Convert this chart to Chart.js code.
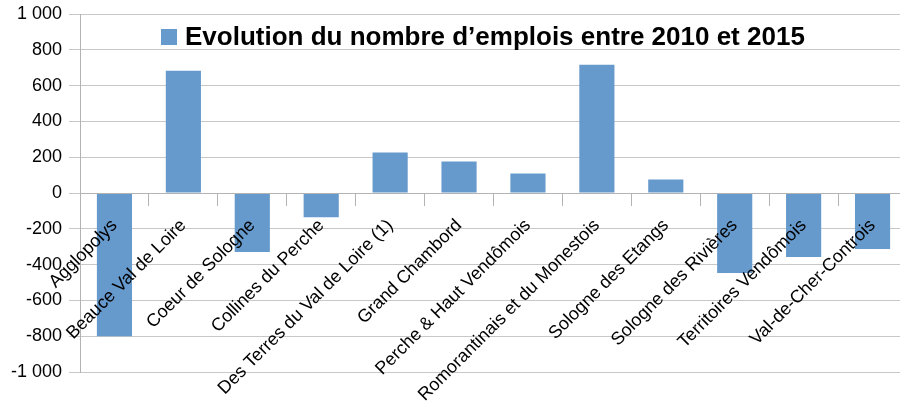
<!DOCTYPE html>
<html>
<head>
<meta charset="utf-8">
<script src="https://cdn.jsdelivr.net/npm/chart.js@4"></script>
<style>
  html, body { margin: 0; padding: 0; background: #fff; overflow: hidden; }
  #wrap { width: 910px; height: 406px; }
</style>
</head>
<body>
<div id="wrap"><canvas id="emploisChart" width="910" height="406"></canvas></div>
<script>
const categories = ['Agglopolys', 'Beauce Val de Loire', 'Coeur de Sologne', 'Collines du Perche',
  'Des Terres du Val de Loire (1)', 'Grand Chambord', 'Perche & Haut Vendômois',
  'Romorantinais et du Monestois', 'Sologne des Etangs', 'Sologne des Rivières',
  'Territoires Vendômois', 'Val-de-Cher-Controis'];
const evolution = [-800, 683, -330, -135, 226, 176, 109, 717, 75, -447, -358, -313];
const yTickLabels = ['-1 000', '-800', '-600', '-400', '-200', '0', '200', '400', '600', '800', '1 000'];
const seriesLabel = 'Evolution du nombre d’emplois entre 2010 et 2015';

document.addEventListener('DOMContentLoaded', function() {
  // legend drawn inside the plot, like the original
  const topLegend = {
    id: 'topLegend',
    afterDraw(chart) {
      const ctx = chart.ctx;
      const ds = chart.data.datasets[0];
      const x0 = chart.chartArea.left + 81;
      ctx.save();
      ctx.fillStyle = ds.backgroundColor;
      ctx.fillRect(x0, 29, 16, 16);
      ctx.font = 'bold 26px "Liberation Sans"';
      ctx.fillStyle = '#000';
      ctx.textBaseline = 'alphabetic';
      ctx.fillText(ds.label, x0 + 24, 45);
      ctx.restore();
    }
  };

  const ctx = document.getElementById('emploisChart').getContext('2d');
  const emploisChart = new Chart(ctx, {
    type: 'bar',
    data: {
      labels: categories,
      datasets: [{
        label: seriesLabel,
        data: evolution,
        backgroundColor: '#6699cc',
        categoryPercentage: 1,
        barPercentage: 0.51
      }]
    },
    options: {
      responsive: false,
      animation: false,
      layout: { padding: { top: 14, bottom: 34, right: 3, left: 0 } },
      plugins: {
        legend: { display: false },
        tooltip: { enabled: false }
      },
      scales: {
        x: {
          position: { y: 0 },
          grid: {
            drawOnChartArea: false,
            drawTicks: true,
            tickLength: 12,
            color: '#b3b3b3',
            z: 1
          },
          border: { color: '#b3b3b3', z: 1 },
          ticks: {
            color: '#000',
            font: { family: 'Liberation Sans', size: 18 },
            minRotation: 45,
            maxRotation: 45,
            autoSkip: false,
            padding: 10,
            z: 1
          }
        },
        y: {
          min: -1000,
          max: 1000,
          afterFit: function(scale) {
            scale.width = 80;
            scale.paddingTop = 0;
            scale.paddingBottom = 0;
          },
          grid: {
            color: '#c8c8c8',
            tickLength: 11
          },
          border: { color: '#b3b3b3' },
          ticks: {
            stepSize: 200,
            color: '#000',
            padding: 7,
            font: { family: 'Liberation Sans', size: 18 },
            callback: function(value, index) { return yTickLabels[index]; }
          }
        }
      }
    },
    plugins: [topLegend]
  });
});
</script>
</body>
</html>
